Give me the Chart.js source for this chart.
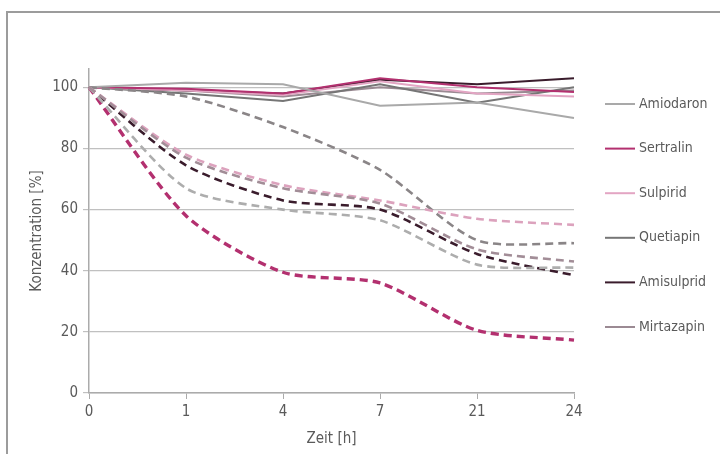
<!DOCTYPE html>
<html>
<head>
<meta charset="utf-8">
<script src="https://cdn.jsdelivr.net/npm/chart.js@4.4.1/dist/chart.umd.min.js"></script>
<style>
    html, body { margin: 0; padding: 0; background: #fff; }
    #frame {
        position: absolute; left: 6px; top: 11px; width: 740px; height: 470px;
        border-left: 2px solid #9c9c9c; border-top: 2px solid #9c9c9c;
    }
    #wrap { position: absolute; left: 0; top: 0; width: 720px; height: 454px; }
</style>
</head>
<body>
<div id="frame"></div>
<div id="wrap"><canvas id="konzChart"></canvas></div>
<script>
// Zeitpunkte (x-Achse)
const zeit = ['0', '1', '4', '7', '21', '24'];

// Durchgezogene Linien
const amiodaron  = [100, 101.5, 101, 94, 95, 90];
const sertralin  = [100, 99.5, 98, 103, 100, 98.5];
const sulpirid   = [100, 99, 97.5, 102, 98, 97];
const quetiapin  = [100, 98, 95.5, 101, 95, 100];
const amisulprid = [100, 99, 98, 102.5, 101, 103];
const mirtazapin = [100, 99, 97, 100, 98, 99];

// Gestrichelte Linien
const amiodaronB  = [100, 67, 60, 56.5, 42, 41];
const sertralinB  = [100, 58, 39.5, 36, 20.5, 17.3];
const sulpiridB   = [100, 78, 68, 63, 57, 55];
const quetiapinB  = [100, 97, 87, 73, 50, 49];
const amisulpridB = [100, 74.5, 63, 60, 45.5, 38.5];
const mirtazapinB = [100, 77, 67, 62, 47, 43];

const FONT = "'Liberation Sans Narrow', 'DejaVu Sans Condensed', 'Liberation Sans', sans-serif";
const TEXT = '#5a5a5a';

const colors = {
    amiodaron: '#a9a9a9',
    sertralin: '#b3306f',
    sulpirid: '#e3a5c3',
    quetiapin: '#767676',
    amisulprid: '#3a1c2c',
    mirtazapin: '#9b8a93'
};

function solid(label, data, color) {
    return { label, data, borderColor: color, backgroundColor: color, borderWidth: 2,
        pointRadius: 0, tension: 0, legend: true };
}
function dashed(label, data, color, width) {
    return { label, data, borderColor: color, backgroundColor: color, borderWidth: width || 2.6,
        borderDash: [8, 5], pointRadius: 0, tension: 0.25, legend: false };
}

// Legende rechts, nur die durchgezogenen Linien
const sideLegend = {
    id: 'sideLegend',
    afterDraw(chart) {
        const ctx = chart.ctx;
        const items = chart.data.datasets.filter(d => d.legend);
        ctx.save();
        ctx.font = '14px ' + FONT;
        ctx.textBaseline = 'middle';
        items.forEach((d, i) => {
            const y = 104 + i * 44.6;
            ctx.strokeStyle = d.borderColor;
            ctx.lineWidth = 2;
            ctx.beginPath();
            ctx.moveTo(605, y);
            ctx.lineTo(635, y);
            ctx.stroke();
            ctx.fillStyle = TEXT;
            ctx.fillText(d.label, 639, y);
        });
        ctx.restore();
    }
};

const ctx = document.getElementById('konzChart').getContext('2d');
const chart = new Chart(ctx, {
    type: 'line',
    data: {
        labels: zeit,
        datasets: [
            dashed('Mirtazapin (b)', mirtazapinB, '#a28d97'),
            dashed('Sulpirid (b)', sulpiridB, '#dca2bd'),
            dashed('Quetiapin (b)', quetiapinB, '#8a8587'),
            dashed('Amiodaron (b)', amiodaronB, '#adadad'),
            dashed('Amisulprid (b)', amisulpridB, '#3a1c2c'),
            dashed('Sertralin (b)', sertralinB, '#b3306f', 3.4),
            solid('Amiodaron', amiodaron, colors.amiodaron),
            solid('Sertralin', sertralin, colors.sertralin),
            solid('Sulpirid', sulpirid, colors.sulpirid),
            solid('Quetiapin', quetiapin, colors.quetiapin),
            solid('Amisulprid', amisulprid, colors.amisulprid),
            solid('Mirtazapin', mirtazapin, colors.mirtazapin)
        ]
    },
    options: {
        responsive: true,
        maintainAspectRatio: false,
        animation: false,
        layout: { padding: { left: 24, top: 69, right: 146, bottom: 2 } },
        plugins: {
            legend: { display: false },
            tooltip: { enabled: false }
        },
        scales: {
            x: {
                offset: false,
                grid: { drawOnChartArea: false, drawTicks: true, tickLength: 6, color: '#ababab' },
                border: { color: '#ababab', width: 1.5 },
                ticks: { color: TEXT, font: { family: FONT, size: 15 }, padding: 4 },
                title: { display: true, text: 'Zeit [h]', color: TEXT, font: { family: FONT, size: 15 }, padding: { top: 0, bottom: 4 } },
                afterFit(scale) { scale.height = 59; }
            },
            y: {
                min: 0,
                max: 106,
                grid: { color: '#c0c0c0', lineWidth: 1.2, tickLength: 6 },
                border: { color: '#ababab', width: 1.5 },
                ticks: { stepSize: 20, color: TEXT, font: { family: FONT, size: 15 }, padding: 5 },
                afterBuildTicks(scale) { scale.ticks = scale.ticks.filter(t => t.value % 20 === 0); },
                title: { display: true, text: 'Konzentration [%]', color: TEXT, font: { family: FONT, size: 15 }, padding: { top: 4, bottom: 0 } },
                afterFit(scale) { scale.width = 65; }
            }
        }
    },
    plugins: [sideLegend]
});
</script>
</body>
</html>
